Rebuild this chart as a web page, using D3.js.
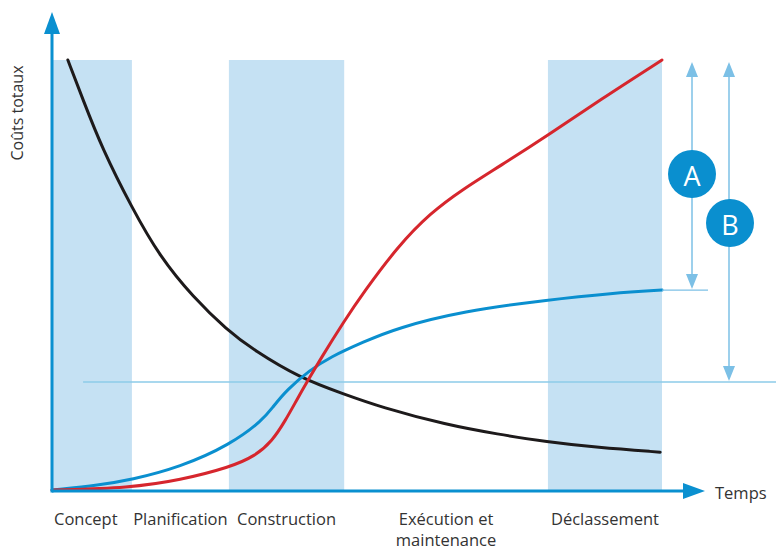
<!DOCTYPE html>
<html><head><meta charset="utf-8">
<script src="https://cdn.jsdelivr.net/npm/d3@7"></script>
<style>body{margin:0;background:#fff}svg{display:block}text{font-family:"Open Sans",sans-serif;fill:#333}</style>
</head><body><svg id="c" width="776" height="551"></svg>
<script>
// phases (time units 0..100)
const phaseNames = ["Concept","Planification","Construction","Exécution et\nmaintenance","Déclassement"];
const phaseStart = [0, 13.1, 29.0, 47.9, 81.3];
const phaseEnd   = [13.1, 29.0, 47.9, 81.3, 100];
const shadedPhases = [0, 2, 4];

// curves: time, cost
const blackT = [2.6,5.1,8.2,13.1,17.7,23.1,28.7,33.0,40.7,47.9,53.8,64.8,73.0,81.1,89.3,99.7];
const blackC = [100,90.7,79.5,65.6,54.2,44.9,37.2,32.6,26.0,22.3,19.3,15.1,13.0,11.2,9.9,8.8];
const redT = [0,12.8,21.0,29.2,33.3,36.1,38.2,40.3,41.8,43.9,48.0,51.0,56.6,62.0,67.4,73.4,81.6,89.8,100];
const redC = [0,0.5,2.3,5.3,7.9,11.4,16.0,21.4,25.1,30.2,39.5,45.8,56.5,64.4,70.0,75.3,82.8,90.7,100];
const blueT = [0,7.9,12.8,21.0,29.2,34.6,36.2,38.5,42.3,45.6,51.0,56.6,67.4,81.1,92.0,100];
const blueC = [0,1.2,2.3,5.3,10.5,16.3,19.3,23.3,27.9,30.9,34.4,37.7,41.6,44.2,45.8,46.5];

const refLevel = 25.1;   // horizontal reference line
const topLevel = 100;    // top of A / B arrows
const blueEnd = 46.5;    // bottom of arrow A
const yLabel = "Coûts totaux";
const xLabel = "Temps";

const svg = d3.select("#c");
const x = d3.scaleLinear().domain([0,100]).range([52,662]);
const y = d3.scaleLinear().domain([0,100]).range([490,60]);

const axisBlue = "#0a90d0", bandCol = "#c5e1f3", lightBlue = "#7cc0e6";

// bands
svg.selectAll("rect.band").data(shadedPhases).join("rect").attr("class","band")
  .attr("x", i=>x(phaseStart[i])).attr("width", i=>x(phaseEnd[i])-x(phaseStart[i]))
  .attr("y", y(100)).attr("height", y(0)-y(100)).attr("fill", bandCol);

// horizontal reference line
svg.append("line").attr("x1", x(5.1)).attr("x2", 776).attr("y1", y(refLevel)).attr("y2", y(refLevel))
  .attr("stroke", "#8ccbe8").attr("stroke-width", 1.5);

// curves
const line = d3.line().x(d=>x(d[0])).y(d=>y(d[1])).curve(d3.curveBasis);
function curve(T, C, col){
  svg.append("path").datum(T.map((t,i)=>[t,C[i]])).attr("d", line)
    .attr("fill","none").attr("stroke", col).attr("stroke-width", 3).attr("stroke-linecap","round");
}
curve(blackT, blackC, "#1d1a1b");
curve(blueT, blueC, "#0a8fcf");
curve(redT, redC, "#d6262d");

// short line at blue end
svg.append("line").attr("x1", x(100)).attr("x2", 708).attr("y1", y(blueEnd)).attr("y2", y(blueEnd))
  .attr("stroke", lightBlue).attr("stroke-width", 1.2);

// axes
const xAxisEnd = 684, yAxisTop = 33;
svg.append("line").attr("x1", x(0)).attr("x2", xAxisEnd).attr("y1", y(0)+1).attr("y2", y(0)+1)
  .attr("stroke", axisBlue).attr("stroke-width", 3);
svg.append("path").attr("d", `M${xAxisEnd-1},${y(0)+1-8}L${xAxisEnd+21},${y(0)+1}L${xAxisEnd-1},${y(0)+1+8}Z`).attr("fill", axisBlue);
svg.append("line").attr("x1", x(0)).attr("x2", x(0)).attr("y1", y(0)+2.5).attr("y2", yAxisTop)
  .attr("stroke", axisBlue).attr("stroke-width", 3);
svg.append("path").attr("d", `M${x(0)-8},${yAxisTop+1}L${x(0)},${12}L${x(0)+8},${yAxisTop+1}Z`).attr("fill", axisBlue);

// double arrows A and B
function dblArrow(ax, top, bottom){
  const yt = y(top)+2, yb = y(bottom)-1;
  svg.append("line").attr("x1", ax).attr("x2", ax).attr("y1", yt+10).attr("y2", yb-10)
    .attr("stroke", lightBlue).attr("stroke-width", 1.5);
  svg.append("path").attr("d", `M${ax-6},${yt+15}L${ax},${yt}L${ax+6},${yt+15}Z`).attr("fill", lightBlue);
  svg.append("path").attr("d", `M${ax-6},${yb-15}L${ax},${yb}L${ax+6},${yb-15}Z`).attr("fill", lightBlue);
}
dblArrow(692, topLevel, blueEnd);
dblArrow(729, topLevel, refLevel);

function badge(cx, cy, t){
  svg.append("circle").attr("cx", cx).attr("cy", cy).attr("r", 24).attr("fill", "#0a8fcf");
  svg.append("text").attr("x", cx).attr("y", cy+1).attr("text-anchor","middle").attr("dominant-baseline","central")
    .style("fill","#fff").style("font-size","27px").text(t);
}
badge(692, 174, "A");
badge(730, 223, "B");

// phase labels
phaseNames.forEach((n,i)=>{
  const lines = n.split("\n");
  const cx = i===0 ? x(phaseStart[0])+2 : x((phaseStart[i]+phaseEnd[i])/2);
  const t = svg.append("text").attr("x", cx).attr("y", 525)
    .attr("text-anchor", i===0 ? "start" : "middle").style("font-size","16.5px");
  lines.forEach((l,j)=> t.append("tspan").attr("x", cx).attr("dy", j===0?0:21).text(l));
});

svg.append("text").attr("x", 715).attr("y", 499).style("font-size","16.5px").text(xLabel);
svg.append("text").attr("transform","translate(23,113) rotate(-90)").attr("text-anchor","middle")
  .style("font-size","16px").text(yLabel);
</script></body></html>
